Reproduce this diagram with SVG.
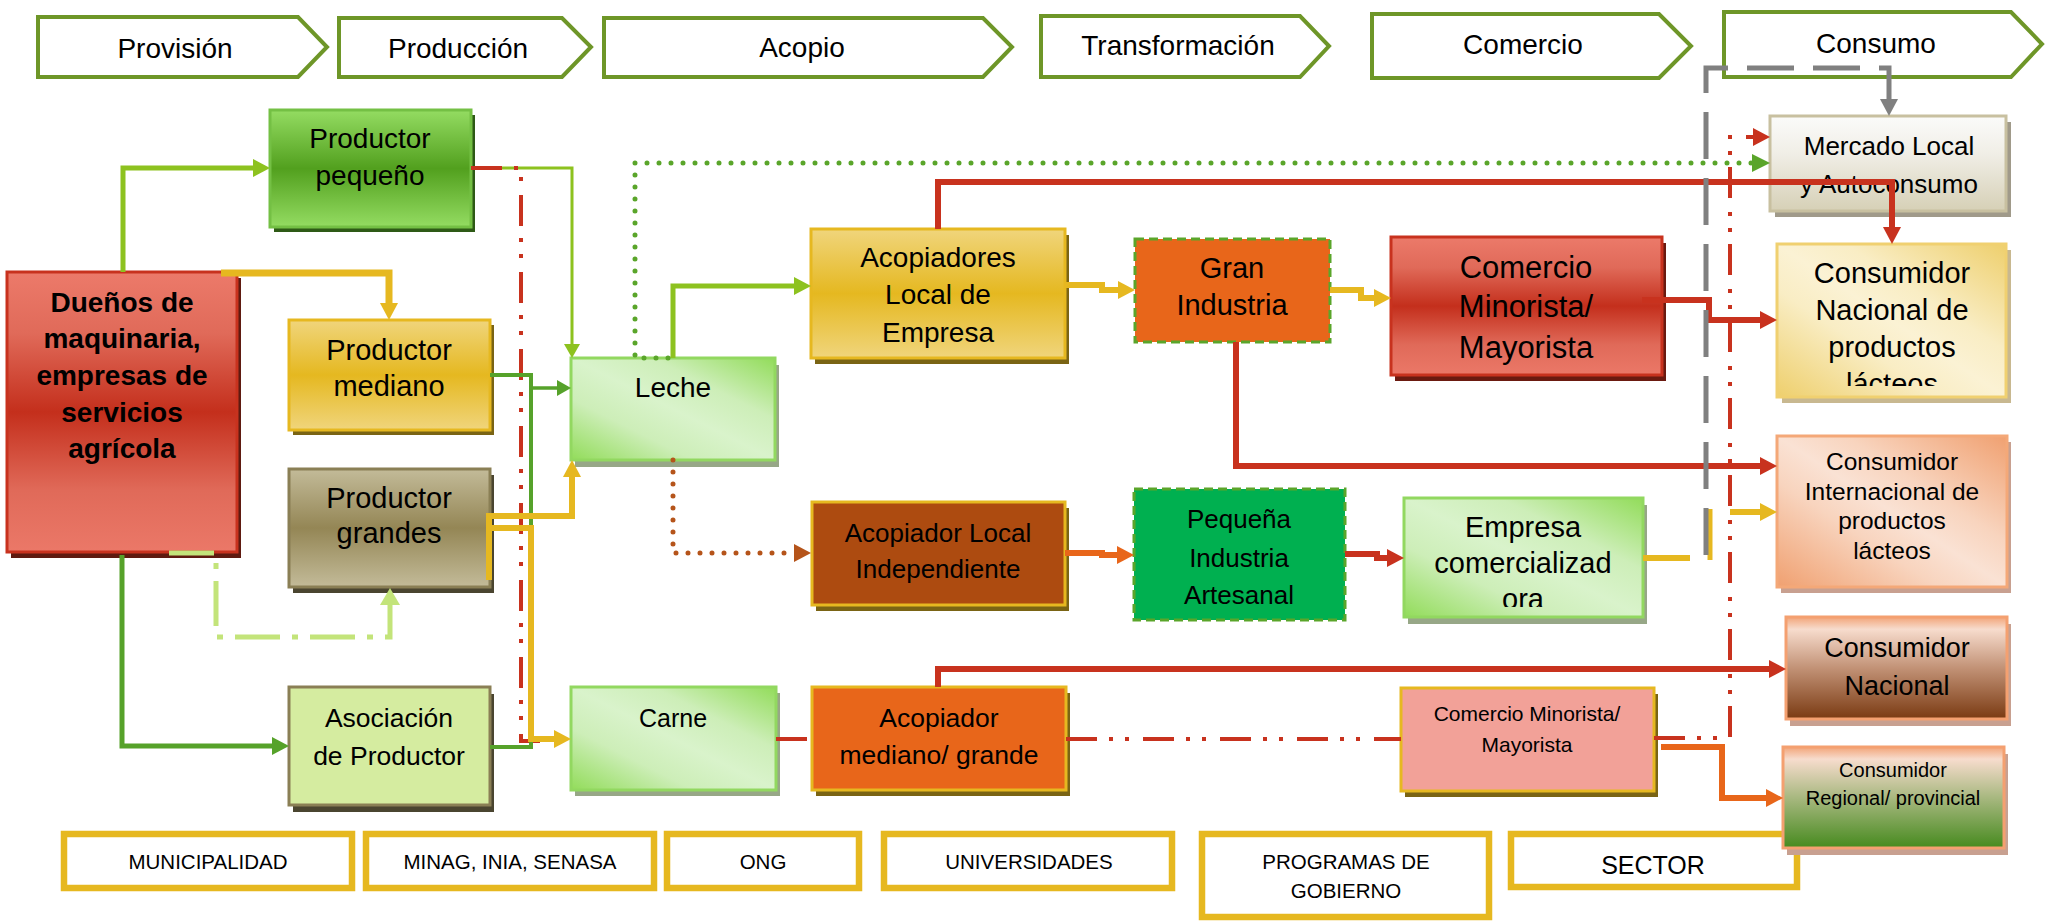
<svg xmlns="http://www.w3.org/2000/svg" width="2055" height="921" viewBox="0 0 2055 921">
<defs>
<style>
text{font-family:"Liberation Sans",Arial,sans-serif;fill:#000;text-anchor:middle}
.hdr{fill:#fff;stroke:#6e9628;stroke-width:4}
.ht{font-size:28px}
.inst{fill:#fff;stroke:#e6b820;stroke-width:6.5}
.it{font-size:20.5px}
.nb{stroke-width:3}
.dash{stroke:#5aa52a;stroke-width:3;stroke-dasharray:9 5}
.dot{stroke-dasharray:0 12;stroke-linecap:round}
.dd{stroke-dasharray:31 12 4 12 4 14}
</style>
<linearGradient id="gRed" x1="0" y1="0" x2="0" y2="1"><stop offset="0" stop-color="#ec7a6a"/><stop offset="0.22" stop-color="#e06a59"/><stop offset="0.5" stop-color="#c42f1c"/><stop offset="0.78" stop-color="#e06a59"/><stop offset="1" stop-color="#eb7868"/></linearGradient>
<linearGradient id="gGreen" x1="0" y1="0" x2="0" y2="1"><stop offset="0" stop-color="#94dc62"/><stop offset="0.5" stop-color="#52a01e"/><stop offset="1" stop-color="#94dc62"/></linearGradient>
<linearGradient id="gYel" x1="0" y1="0" x2="0" y2="1"><stop offset="0" stop-color="#f0d57c"/><stop offset="0.5" stop-color="#e5b820"/><stop offset="1" stop-color="#f0d57c"/></linearGradient>
<linearGradient id="gOlive" x1="0" y1="0" x2="0" y2="1"><stop offset="0" stop-color="#c3bb99"/><stop offset="0.5" stop-color="#948655"/><stop offset="1" stop-color="#c3bb99"/></linearGradient>
<linearGradient id="gLeche" x1="1" y1="0" x2="0" y2="1"><stop offset="0" stop-color="#92dc5a"/><stop offset="0.3" stop-color="#cdeeb8"/><stop offset="0.5" stop-color="#d9f3cb"/><stop offset="0.7" stop-color="#cdeeb8"/><stop offset="1" stop-color="#92dc5a"/></linearGradient>
<linearGradient id="gCNL" x1="1" y1="0" x2="0" y2="1"><stop offset="0" stop-color="#eecf6c"/><stop offset="0.35" stop-color="#f9edc4"/><stop offset="0.5" stop-color="#fbf2d4"/><stop offset="0.65" stop-color="#f9edc4"/><stop offset="1" stop-color="#eecf6c"/></linearGradient>
<linearGradient id="gCI" x1="1" y1="0" x2="0" y2="1"><stop offset="0" stop-color="#f0a070"/><stop offset="0.35" stop-color="#f8d4be"/><stop offset="0.5" stop-color="#fae2d4"/><stop offset="0.65" stop-color="#f8d4be"/><stop offset="1" stop-color="#f0a070"/></linearGradient>
<linearGradient id="gMerc" x1="0" y1="0" x2="0" y2="1"><stop offset="0" stop-color="#fbfbfa"/><stop offset="0.4" stop-color="#f0eee6"/><stop offset="1" stop-color="#d6d0b6"/></linearGradient>
<linearGradient id="gCN" x1="0" y1="0" x2="0" y2="1"><stop offset="0" stop-color="#f2a478"/><stop offset="0.12" stop-color="#f7dccd"/><stop offset="0.5" stop-color="#c29276"/><stop offset="1" stop-color="#7a3a12"/></linearGradient>
<linearGradient id="gCR" x1="0" y1="0" x2="0" y2="1"><stop offset="0" stop-color="#f2a478"/><stop offset="0.12" stop-color="#f7dccd"/><stop offset="0.5" stop-color="#a8b880"/><stop offset="1" stop-color="#468a1e"/></linearGradient>
<clipPath id="cCNL"><rect x="1777" y="244" width="229" height="142"/></clipPath>
<clipPath id="cEmp"><rect x="1404" y="498" width="239" height="109"/></clipPath>
<marker id="mLG" markerUnits="userSpaceOnUse" markerWidth="17" markerHeight="18" viewBox="0 0 17 18" refX="0" refY="9" orient="auto"><path d="M0,0L17,9L0,18z" fill="#8dc21f"/></marker>
<marker id="mLGs" markerUnits="userSpaceOnUse" markerWidth="14" markerHeight="16" viewBox="0 0 14 16" refX="0" refY="8" orient="auto"><path d="M0,0L14,8L0,16z" fill="#8dc21f"/></marker>
<marker id="mDG" markerUnits="userSpaceOnUse" markerWidth="17" markerHeight="18" viewBox="0 0 17 18" refX="0" refY="9" orient="auto"><path d="M0,0L17,9L0,18z" fill="#56a22a"/></marker>
<marker id="mDGs" markerUnits="userSpaceOnUse" markerWidth="14" markerHeight="16" viewBox="0 0 14 16" refX="0" refY="8" orient="auto"><path d="M0,0L14,8L0,16z" fill="#56a22a"/></marker>
<marker id="mY" markerUnits="userSpaceOnUse" markerWidth="17" markerHeight="18" viewBox="0 0 17 18" refX="0" refY="9" orient="auto"><path d="M0,0L17,9L0,18z" fill="#e6b820"/></marker>
<marker id="mR" markerUnits="userSpaceOnUse" markerWidth="17" markerHeight="18" viewBox="0 0 17 18" refX="0" refY="9" orient="auto"><path d="M0,0L17,9L0,18z" fill="#c8321e"/></marker>
<marker id="mO" markerUnits="userSpaceOnUse" markerWidth="17" markerHeight="18" viewBox="0 0 17 18" refX="0" refY="9" orient="auto"><path d="M0,0L17,9L0,18z" fill="#e8661a"/></marker>
<marker id="mB" markerUnits="userSpaceOnUse" markerWidth="17" markerHeight="18" viewBox="0 0 17 18" refX="0" refY="9" orient="auto"><path d="M0,0L17,9L0,18z" fill="#b5541a"/></marker>
<marker id="mGr" markerUnits="userSpaceOnUse" markerWidth="17" markerHeight="18" viewBox="0 0 17 18" refX="0" refY="9" orient="auto"><path d="M0,0L17,9L0,18z" fill="#808080"/></marker>
<marker id="mPG" markerUnits="userSpaceOnUse" markerWidth="17" markerHeight="20" viewBox="0 0 17 20" refX="0" refY="10" orient="auto"><path d="M0,0L17,10L0,20z" fill="#c3e47a"/></marker>
<marker id="mDot" markerUnits="userSpaceOnUse" markerWidth="18" markerHeight="18" viewBox="0 0 18 18" refX="0" refY="9" orient="auto"><path d="M0,0L18,9L0,18z" fill="#5aa52a"/></marker>
</defs>
<rect width="2055" height="921" fill="#fff"/>

<g id="headers">
<g id="h-provision"><polygon class="hdr" points="38,17 298,17 327,47 298,77 38,77"/><text class="ht" x="175" y="58">Provisión</text></g>
<g id="h-produccion"><polygon class="hdr" points="339,18 562,18 591,47 562,77 339,77"/><text class="ht" x="458" y="58">Producción</text></g>
<g id="h-acopio"><polygon class="hdr" points="604,18 983,18 1012,47 983,77 604,77"/><text class="ht" x="802" y="57">Acopio</text></g>
<g id="h-transformacion"><polygon class="hdr" points="1041,16 1300,16 1329,46 1300,77 1041,77"/><text class="ht" x="1178" y="55">Transformación</text></g>
<g id="h-comercio"><polygon class="hdr" points="1372,14 1659,14 1691,46 1659,78 1372,78"/><text class="ht" x="1523" y="54">Comercio</text></g>
<g id="h-consumo"><polygon class="hdr" points="1724,12 2011,12 2042,44 2011,77 1724,77"/><text class="ht" x="1876" y="53">Consumo</text></g>
</g>

<g id="institutions">
<g id="i-municipalidad"><rect class="inst" x="64" y="834" width="288" height="54"/><text class="it" x="208" y="869">MUNICIPALIDAD</text></g>
<g id="i-minag"><rect class="inst" x="366" y="834" width="288" height="54"/><text class="it" x="510" y="869">MINAG, INIA, SENASA</text></g>
<g id="i-ong"><rect class="inst" x="667" y="834" width="192" height="54"/><text class="it" x="763" y="869">ONG</text></g>
<g id="i-universidades"><rect class="inst" x="884" y="834" width="288" height="54"/><text class="it" x="1029" y="869">UNIVERSIDADES</text></g>
<g id="i-programas"><rect class="inst" x="1202" y="834" width="287" height="83"/><text class="it" x="1346" y="869">PROGRAMAS DE</text><text class="it" x="1346" y="898">GOBIERNO</text></g>
<g id="i-sector"><rect class="inst" x="1511" y="834" width="286" height="53"/><text x="1653" y="874" font-size="25">SECTOR</text></g>
</g>

<g id="n-duenos">
<rect x="11" y="278" width="230" height="280" fill="#5e1a10"/>
<rect class="nb" x="7" y="272" width="230" height="280" fill="url(#gRed)" stroke="#c8321e"/>
<text font-size="28" font-weight="bold"><tspan x="122" y="312">Dueños de</tspan><tspan x="122" y="348">maquinaria,</tspan><tspan x="122" y="385">empresas de</tspan><tspan x="122" y="422">servicios</tspan><tspan x="122" y="458">agrícola</tspan></text>
</g>
<g id="n-prod-pequeno">
<rect x="274" y="115" width="201" height="117" fill="#2e5a16"/>
<rect class="nb" x="270" y="110" width="201" height="117" fill="url(#gGreen)" stroke="#74c044"/>
<text font-size="28"><tspan x="370" y="148">Productor</tspan><tspan x="370" y="185">pequeño</tspan></text>
</g>
<g id="n-prod-mediano">
<rect x="293" y="325" width="201" height="110" fill="#7a6414"/>
<rect class="nb" x="289" y="320" width="201" height="110" fill="url(#gYel)" stroke="#e6b820"/>
<text font-size="29"><tspan x="389" y="360">Productor</tspan><tspan x="389" y="396">mediano</tspan></text>
</g>
<g id="n-prod-grandes">
<rect x="293" y="475" width="201" height="118" fill="#4a4530"/>
<rect class="nb" x="289" y="469" width="201" height="118" fill="url(#gOlive)" stroke="#8a7f55"/>
<text font-size="29"><tspan x="389" y="508">Productor</tspan><tspan x="389" y="543">grandes</tspan></text>
</g>
<g id="n-asociacion">
<rect x="293" y="694" width="201" height="118" fill="#4a4530"/>
<rect class="nb" x="289" y="687" width="201" height="118" fill="#d5eca0" stroke="#8a7f55"/>
<text font-size="26.5"><tspan x="389" y="727">Asociación</tspan><tspan x="389" y="765">de Productor</tspan></text>
</g>
<g id="n-leche">
<rect x="575" y="365" width="204" height="102" fill="#97a787"/>
<rect class="nb" x="571" y="358" width="204" height="102" fill="url(#gLeche)" stroke="#92d860"/>
<text x="673" y="397" font-size="28">Leche</text>
</g>
<g id="n-carne">
<rect x="575" y="693" width="205" height="103" fill="#97a787"/>
<rect class="nb" x="571" y="687" width="205" height="103" fill="url(#gLeche)" stroke="#92d860"/>
<text x="673" y="727" font-size="25">Carne</text>
</g>
<g id="n-acopiadores">
<rect x="815" y="235" width="254" height="129" fill="#7a6414"/>
<rect class="nb" x="811" y="229" width="254" height="129" fill="url(#gYel)" stroke="#e6b820"/>
<text font-size="28"><tspan x="938" y="267">Acopiadores</tspan><tspan x="938" y="304">Local de</tspan><tspan x="938" y="342">Empresa</tspan></text>
</g>
<g id="n-gran-industria">
<rect class="dash" x="1135" y="239" width="195" height="103" fill="#e8661a"/>
<text font-size="29"><tspan x="1232" y="278">Gran</tspan><tspan x="1232" y="315">Industria</tspan></text>
</g>
<g id="n-comercio-top">
<rect x="1395" y="243" width="271" height="138" fill="#6b1a10"/>
<rect class="nb" x="1391" y="237" width="271" height="138" fill="url(#gRed)" stroke="#c8321e"/>
<text font-size="31"><tspan x="1526" y="278">Comercio</tspan><tspan x="1526" y="317">Minorista/</tspan><tspan x="1526" y="358">Mayorista</tspan></text>
</g>
<g id="n-acopiador-li">
<rect x="816" y="508" width="253" height="103" fill="#7a6414"/>
<rect class="nb" x="812" y="502" width="253" height="103" fill="#ad4b10" stroke="#e6b820"/>
<text font-size="26"><tspan x="938" y="542">Acopiador Local</tspan><tspan x="938" y="578">Independiente</tspan></text>
</g>
<g id="n-pequena">
<rect class="dash" x="1134" y="489" width="211" height="131" fill="#00b050"/>
<text font-size="26"><tspan x="1239" y="528">Pequeña</tspan><tspan x="1239" y="567">Industria</tspan><tspan x="1239" y="604">Artesanal</tspan></text>
</g>
<g id="n-empresa">
<rect x="1408" y="505" width="239" height="119" fill="#97a787"/>
<rect class="nb" x="1404" y="498" width="239" height="119" fill="url(#gLeche)" stroke="#92d860"/>
<text font-size="29" clip-path="url(#cEmp)"><tspan x="1523" y="537">Empresa</tspan><tspan x="1523" y="573">comercializad</tspan><tspan x="1523" y="609">ora</tspan></text>
</g>
<g id="n-acopiador-mg">
<rect x="816" y="693" width="254" height="103" fill="#7a6414"/>
<rect class="nb" x="812" y="687" width="254" height="103" fill="#e8661a" stroke="#e6b820"/>
<text font-size="26.5"><tspan x="939" y="727">Acopiador</tspan><tspan x="939" y="764">mediano/ grande</tspan></text>
</g>
<g id="n-comercio-bottom">
<rect x="1405" y="694" width="253" height="103" fill="#7a6414"/>
<rect class="nb" x="1401" y="688" width="253" height="103" fill="#f2a198" stroke="#e6b820"/>
<text font-size="21"><tspan x="1527" y="721">Comercio Minorista/</tspan><tspan x="1527" y="752">Mayorista</tspan></text>
</g>
<g id="n-mercado">
<rect x="1775" y="122" width="236" height="95" fill="#a09a8a"/>
<rect class="nb" x="1770" y="116" width="236" height="95" fill="url(#gMerc)" stroke="#c8c0a0"/>
<text font-size="26"><tspan x="1889" y="155">Mercado Local</tspan><tspan x="1889" y="193">y Autoconsumo</tspan></text>
</g>
<g id="n-cons-nac-lacteos">
<rect x="1782" y="250" width="229" height="153" fill="#c8b890"/>
<rect class="nb" x="1777" y="244" width="229" height="153" fill="url(#gCNL)" stroke="#f0d070"/>
<text font-size="29" clip-path="url(#cCNL)"><tspan x="1892" y="283">Consumidor</tspan><tspan x="1892" y="320">Nacional de</tspan><tspan x="1892" y="357">productos</tspan><tspan x="1892" y="394">lácteos</tspan></text>
</g>
<g id="n-cons-intl">
<rect x="1781" y="442" width="230" height="151" fill="#c8a090"/>
<rect class="nb" x="1777" y="436" width="230" height="151" fill="url(#gCI)" stroke="#f4a878"/>
<text font-size="24.5"><tspan x="1892" y="470">Consumidor</tspan><tspan x="1892" y="500">Internacional de</tspan><tspan x="1892" y="529">productos</tspan><tspan x="1892" y="559">lácteos</tspan></text>
</g>
<g id="n-cons-nac">
<rect x="1790" y="624" width="221" height="102" fill="#c8a090"/>
<rect class="nb" x="1786" y="617" width="221" height="102" fill="url(#gCN)" stroke="#f4a070"/>
<text font-size="27"><tspan x="1897" y="657">Consumidor</tspan><tspan x="1897" y="695">Nacional</tspan></text>
</g>
<g id="n-cons-reg">
<rect x="1787" y="754" width="221" height="101" fill="#c8a090"/>
<rect class="nb" x="1783" y="747" width="221" height="101" fill="url(#gCR)" stroke="#f4a070"/>
<text font-size="20"><tspan x="1893" y="777">Consumidor</tspan><tspan x="1893" y="805">Regional/ provincial</tspan></text>
</g>

<g id="connectors" fill="none">
<path d="M123,272 V168 H253" stroke="#8dc21f" stroke-width="5" marker-end="url(#mLG)"/>
<path d="M221,273 H389 V303" stroke="#e6b820" stroke-width="7" marker-end="url(#mY)"/>
<path d="M169,553 H216 V637 H390 V605" stroke="#c3e47a" stroke-width="5" stroke-dasharray="45 12 6 12" marker-end="url(#mPG)"/>
<path d="M122,555 V746 H272" stroke="#56a22a" stroke-width="5" marker-end="url(#mDG)"/>
<path d="M471,168 H572 V344" stroke="#8dc21f" stroke-width="3" marker-end="url(#mLGs)"/>
<path class="dd" d="M471,168 H521 V741 H540" stroke="#c8321e" stroke-width="4"/>
<path d="M490,747 H531 V375 H490" stroke="#56a22a" stroke-width="4"/>
<path d="M531,388 H557" stroke="#56a22a" stroke-width="3.5" marker-end="url(#mDGs)"/>
<path d="M489,580 V516 H572 V477" stroke="#e6b820" stroke-width="6" marker-end="url(#mY)"/>
<path d="M489,528 H531 V739 H554" stroke="#e6b820" stroke-width="6" marker-end="url(#mY)"/>
<path d="M673,358 V286 H794" stroke="#8dc21f" stroke-width="5" marker-end="url(#mLG)"/>
<path class="dot" d="M668,358 H635 V163 H1752" stroke="#5aa52a" stroke-width="5" marker-end="url(#mDot)"/>
<path class="dot" d="M673,460 V553 H794" stroke="#b5541a" stroke-width="5" marker-end="url(#mB)"/>
<path d="M1065,285 H1102 V290 H1118" stroke="#e6b820" stroke-width="6" marker-end="url(#mY)"/>
<path d="M938,229 V182 H1892 V227" stroke="#c8321e" stroke-width="6" marker-end="url(#mR)"/>
<path d="M1330,290 H1361 V298 H1374" stroke="#e6b820" stroke-width="6" marker-end="url(#mY)"/>
<path d="M1236,342 V466 H1760" stroke="#c8321e" stroke-width="6" marker-end="url(#mR)"/>
<path d="M1642,300 H1709 V320 H1760" stroke="#c8321e" stroke-width="6" marker-end="url(#mR)"/>
<path d="M1065,553 H1102 V555 H1117" stroke="#e8661a" stroke-width="6" marker-end="url(#mO)"/>
<path d="M1345,554 H1377 V558 H1387" stroke="#c8321e" stroke-width="6" marker-end="url(#mR)"/>
<path d="M1643,558 H1690" stroke="#e6b820" stroke-width="6"/>
<path d="M1710,509 V560" stroke="#e6b820" stroke-width="5"/>
<path d="M1706,555 V68 H1889 V99" stroke="#808080" stroke-width="5" stroke-dasharray="47 19" marker-end="url(#mGr)"/>
<path d="M1730,512 H1760" stroke="#e6b820" stroke-width="6" marker-end="url(#mY)"/>
<path class="dd" d="M776,739 H812 M1066,739 H1401 M1654,738 H1730 V137 H1753" stroke="#c8321e" stroke-width="4" marker-end="url(#mR)"/>
<path d="M938,687 V669 H1769" stroke="#c8321e" stroke-width="6" marker-end="url(#mR)"/>
<path d="M1661,747 H1722 V798 H1766" stroke="#e8661a" stroke-width="6" marker-end="url(#mO)"/>
</g>
</svg>
